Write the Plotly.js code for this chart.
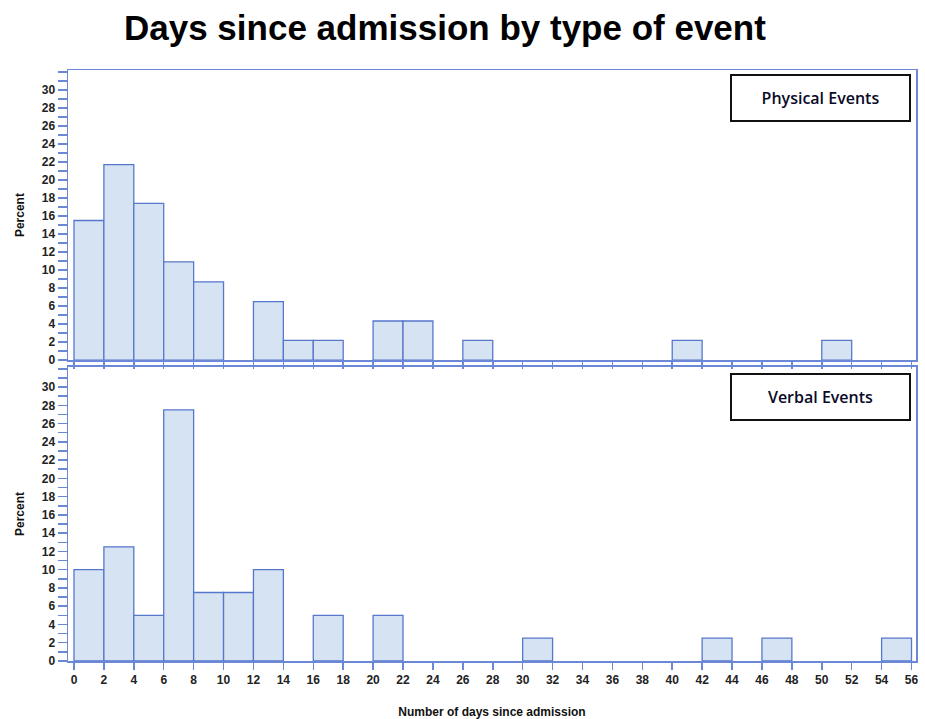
<!DOCTYPE html>
<html><head><meta charset="utf-8">
<script src="https://cdn.plot.ly/plotly-3.0.1.min.js"></script>
<style>html,body{margin:0;padding:0;background:#fff}#chart{width:925px;height:719px}</style>
</head><body><div id="chart"></div>
<script>
// bin start (days), bins are 2 days wide
const binStarts = [0,2,4,6,8,10,12,14,16,18,20,22,24,26,28,30,32,34,36,38,40,42,44,46,48,50,52,54];
const physicalPct = [15.5,21.7,17.4,10.9,8.7,0,6.5,2.2,2.2,0,4.35,4.35,0,2.2,0,0,0,0,0,0,2.2,0,0,0,0,2.2,0,0];
const verbalPct   = [10,12.5,5,27.5,7.5,7.5,10,0,5,0,5,0,0,0,0,2.5,0,0,0,0,0,2.5,0,2.5,0,0,0,2.5];
const xTicks = [0,2,4,6,8,10,12,14,16,18,20,22,24,26,28,30,32,34,36,38,40,42,44,46,48,50,52,54,56];
const yTicks = [0,2,4,6,8,10,12,14,16,18,20,22,24,26,28,30];

const binWidth = 2;
const centers = binStarts.map(b => b + binWidth/2);
const fill = '#d6e3f2', edge = '#5777cc', axisCol = '#6a88d6';
const tickFont = {family:'Liberation Sans Narrow, Liberation Sans, Arial, sans-serif', size:12, color:'#222', weight:'bold'};

function barTrace(vals, xa, ya){
  return {type:'bar', x:centers, y:vals.map(v => v === 0 ? null : v), width:binWidth, xaxis:xa, yaxis:ya,
    marker:{color:fill, line:{color:edge, width:1.3}}, hoverinfo:'x+y', showlegend:false};
}
const yAx = d => ({domain:d, range:[0,32.2], tickvals:yTicks, ticks:'outside', ticklen:9, tickwidth:1.5, tickcolor:axisCol,
  minor:{dtick:1, tick0:0, ticks:'outside', ticklen:9, tickwidth:1.5, tickcolor:axisCol, showgrid:false},
  showgrid:false, zeroline:false, showline:true, linecolor:axisCol, linewidth:1.5, mirror:true,
  tickfont:tickFont, title:{text:'<b>Percent</b>', font:{family:'Liberation Sans, Arial, sans-serif', size:12, color:'#111'}, standoff:14}});
const xAxBase = {range:[-0.4,56.3], tickvals:xTicks, ticks:'outside', ticklen:7, tickwidth:1.5, tickcolor:axisCol,
  showgrid:false, zeroline:false, showline:true, linecolor:axisCol, linewidth:1.5, mirror:true};

const boxFont = {family:'Open Sans, sans-serif', size:16, color:'#0a0a28', weight:600};
const layout = {
  width:925, height:719, paper_bgcolor:'#fff', plot_bgcolor:'#fff',
  margin:{l:68, r:9, t:70, b:58}, bargap:0,
  title:{text:'<b>Days since admission by type of event</b>', x:0.481, xanchor:'center', y:0.962, yanchor:'middle',
    font:{family:'Liberation Sans, Arial, sans-serif', size:35, color:'#000'}},
  xaxis:Object.assign({}, xAxBase, {anchor:'y', showticklabels:false}),
  yaxis:yAx([0.509,1]),
  xaxis2:Object.assign({}, xAxBase, {anchor:'y2', tickfont:tickFont,
    title:{text:'<b>Number of days since admission</b>', font:{family:'Liberation Sans, Arial, sans-serif', size:12, color:'#111'}, standoff:22}}),
  yaxis2:yAx([0,0.4975]),
  annotations:[
    {xref:'paper', yref:'paper', x:0.887, y:0.953, xanchor:'center', yanchor:'middle', text:'Physical Events', showarrow:false,
     font:boxFont, bordercolor:'#111', borderwidth:2, width:175, height:42, bgcolor:'#fff'},
    {xref:'paper', yref:'paper', x:0.887, y:0.447, xanchor:'center', yanchor:'middle', text:'Verbal Events', showarrow:false,
     font:boxFont, bordercolor:'#111', borderwidth:2, width:175, height:42, bgcolor:'#fff'}
  ]
};
Plotly.newPlot('chart', [barTrace(physicalPct,'x','y'), barTrace(verbalPct,'x2','y2')], layout, {displayModeBar:false, staticPlot:true});
</script></body></html>
